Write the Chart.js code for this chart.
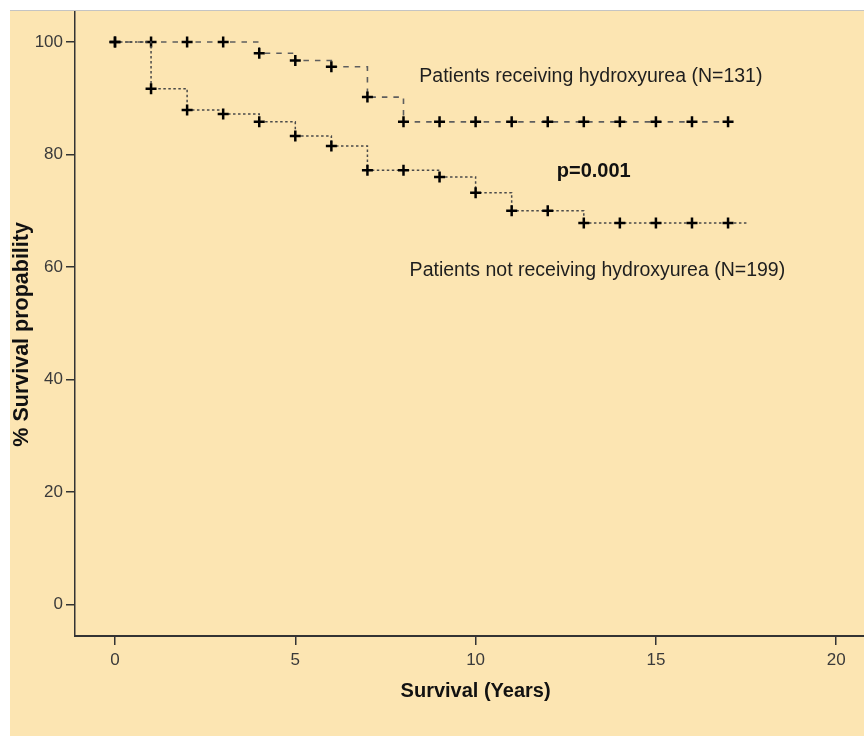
<!DOCTYPE html>
<html>
<head>
<meta charset="utf-8">
<script src="https://cdn.jsdelivr.net/npm/chart.js@4.4.1/dist/chart.umd.min.js"></script>
<style>
  html, body { margin: 0; padding: 0; background: #fff; }
  #panel {
    position: absolute; left: 10px; top: 10px;
    width: 854px; height: 726px;
    border-top: 1px solid #c4c4c4;
    background: #fce5b2;
  }
  #km { display: block; }
</style>
</head>
<body>
<div id="panel"><canvas id="km" width="854" height="725"></canvas></div>
<script>
// Kaplan-Meier survival, values
var yearsHU = [0, 1, 2, 3, 4, 5, 6, 7, 8, 9, 10, 11, 12, 13, 14, 15, 16, 17];
var survHU = [100, 100, 100, 100, 98.0, 96.7, 95.6, 90.2, 85.8, 85.8, 85.8, 85.8, 85.8, 85.8, 85.8, 85.8, 85.8, 85.8];
var lastHU = 17.1;

var yearsNoHU = [0, 1, 2, 3, 4, 5, 6, 7, 8, 9, 10, 11, 12, 13, 14, 15, 16, 17];
var survNoHU = [100, 91.7, 87.9, 87.2, 85.8, 83.3, 81.5, 77.2, 77.2, 76.0, 73.2, 70.0, 70.0, 67.8, 67.8, 67.8, 67.8, 67.8];
var lastNoHU = 17.55;

var xTicks = [0, 5, 10, 15, 20];
var yTicks = [0, 20, 40, 60, 80, 100];

var tickFont = { family: "'Liberation Sans Narrow', 'Arial Narrow', 'Liberation Sans', sans-serif", size: 17 };

function curve(years, surv, last) {
    var pts = years.map(function (t, i) { return { x: t, y: surv[i] }; });
    pts.push({ x: last, y: surv[surv.length - 1] });
    return pts;
}

function radii(n) {
    var r = [];
    for (var i = 0; i < n; i++) r.push(5.5);
    r.push(0);
    return r;
}

// text notes inside the plot and the two axis titles
var notes = {
    id: 'notes',
    afterDraw: function (chart) {
        var c = chart.ctx, xs = chart.scales.x, ys = chart.scales.y;
        c.save();
        c.fillStyle = '#1e1e1e';
        c.textBaseline = 'alphabetic';
        c.textAlign = 'left';
        c.font = "19.5px 'Liberation Sans', Arial, sans-serif";
        c.fillText('Patients receiving hydroxyurea (N=131)', xs.getPixelForValue(8.44), ys.getPixelForValue(92.9));
        c.fillText('Patients not receiving hydroxyurea (N=199)', xs.getPixelForValue(8.17), ys.getPixelForValue(58.3));
        c.fillStyle = '#111';
        c.font = "bold 20px 'Liberation Sans', Arial, sans-serif";
        c.fillText('p=0.001', xs.getPixelForValue(12.25), ys.getPixelForValue(76.0));

        c.textAlign = 'center';
        c.textBaseline = 'middle';
        c.fillText('Survival (Years)', xs.getPixelForValue(10), chart.chartArea.bottom + 55);
        c.font = "bold 21.5px 'Liberation Sans', Arial, sans-serif";
        c.translate(12, ys.getPixelForValue(48));
        c.rotate(-Math.PI / 2);
        c.fillText('% Survival propability', 0, 0);
        c.restore();
    }
};

function noPad(s) {
    s.paddingTop = 0;
    s.paddingBottom = 0;
    s.paddingLeft = 0;
    s.paddingRight = 0;
}

var ctx = document.getElementById('km').getContext('2d');
var kmChart = new Chart(ctx, {
    type: 'line',
    data: {
        datasets: [{
            label: 'Patients not receiving hydroxyurea (N=199)',
            data: curve(yearsNoHU, survNoHU, lastNoHU),
            stepped: true,
            borderColor: '#4a4a4a',
            borderWidth: 1.5,
            borderDash: [2.5, 2.5],
            pointStyle: 'cross',
            pointRadius: radii(yearsNoHU.length),
            pointBorderWidth: 2.5,
            pointBorderColor: '#000',
            fill: false
        }, {
            label: 'Patients receiving hydroxyurea (N=131)',
            data: curve(yearsHU, survHU, lastHU),
            stepped: true,
            borderColor: '#5e5e5e',
            borderWidth: 1.6,
            borderDash: [5.5, 6],
            pointStyle: 'cross',
            pointRadius: radii(yearsHU.length),
            pointBorderWidth: 2.5,
            pointBorderColor: '#000',
            fill: false
        }]
    },
    options: {
        responsive: false,
        animation: false,
        layout: { padding: 0, autoPadding: false },
        plugins: {
            legend: { display: false },
            tooltip: { enabled: false }
        },
        scales: {
            x: {
                type: 'linear',
                min: -1.109,
                max: 20.77,
                afterBuildTicks: function (s) { s.ticks = xTicks.map(function (v) { return { value: v }; }); },
                afterFit: function (s) { s.height = 100; noPad(s); },
                ticks: { font: tickFont, color: '#3a3a3a', padding: 5, maxRotation: 0, autoSkip: false },
                grid: { drawOnChartArea: false, drawTicks: true, tickLength: 9, color: '#333', lineWidth: 1.5 },
                border: { display: true, color: '#333', width: 2 }
            },
            y: {
                min: -5.64,
                max: 105.51,
                afterBuildTicks: function (s) { s.ticks = yTicks.map(function (v) { return { value: v }; }); },
                afterFit: function (s) { s.width = 65; noPad(s); },
                ticks: { font: tickFont, color: '#3a3a3a', padding: 3, autoSkip: false },
                grid: { drawOnChartArea: false, drawTicks: true, tickLength: 9, color: '#333', lineWidth: 1.5 },
                border: { display: true, color: '#333', width: 1.5 }
            }
        }
    },
    plugins: [notes]
});
</script>
</body>
</html>
